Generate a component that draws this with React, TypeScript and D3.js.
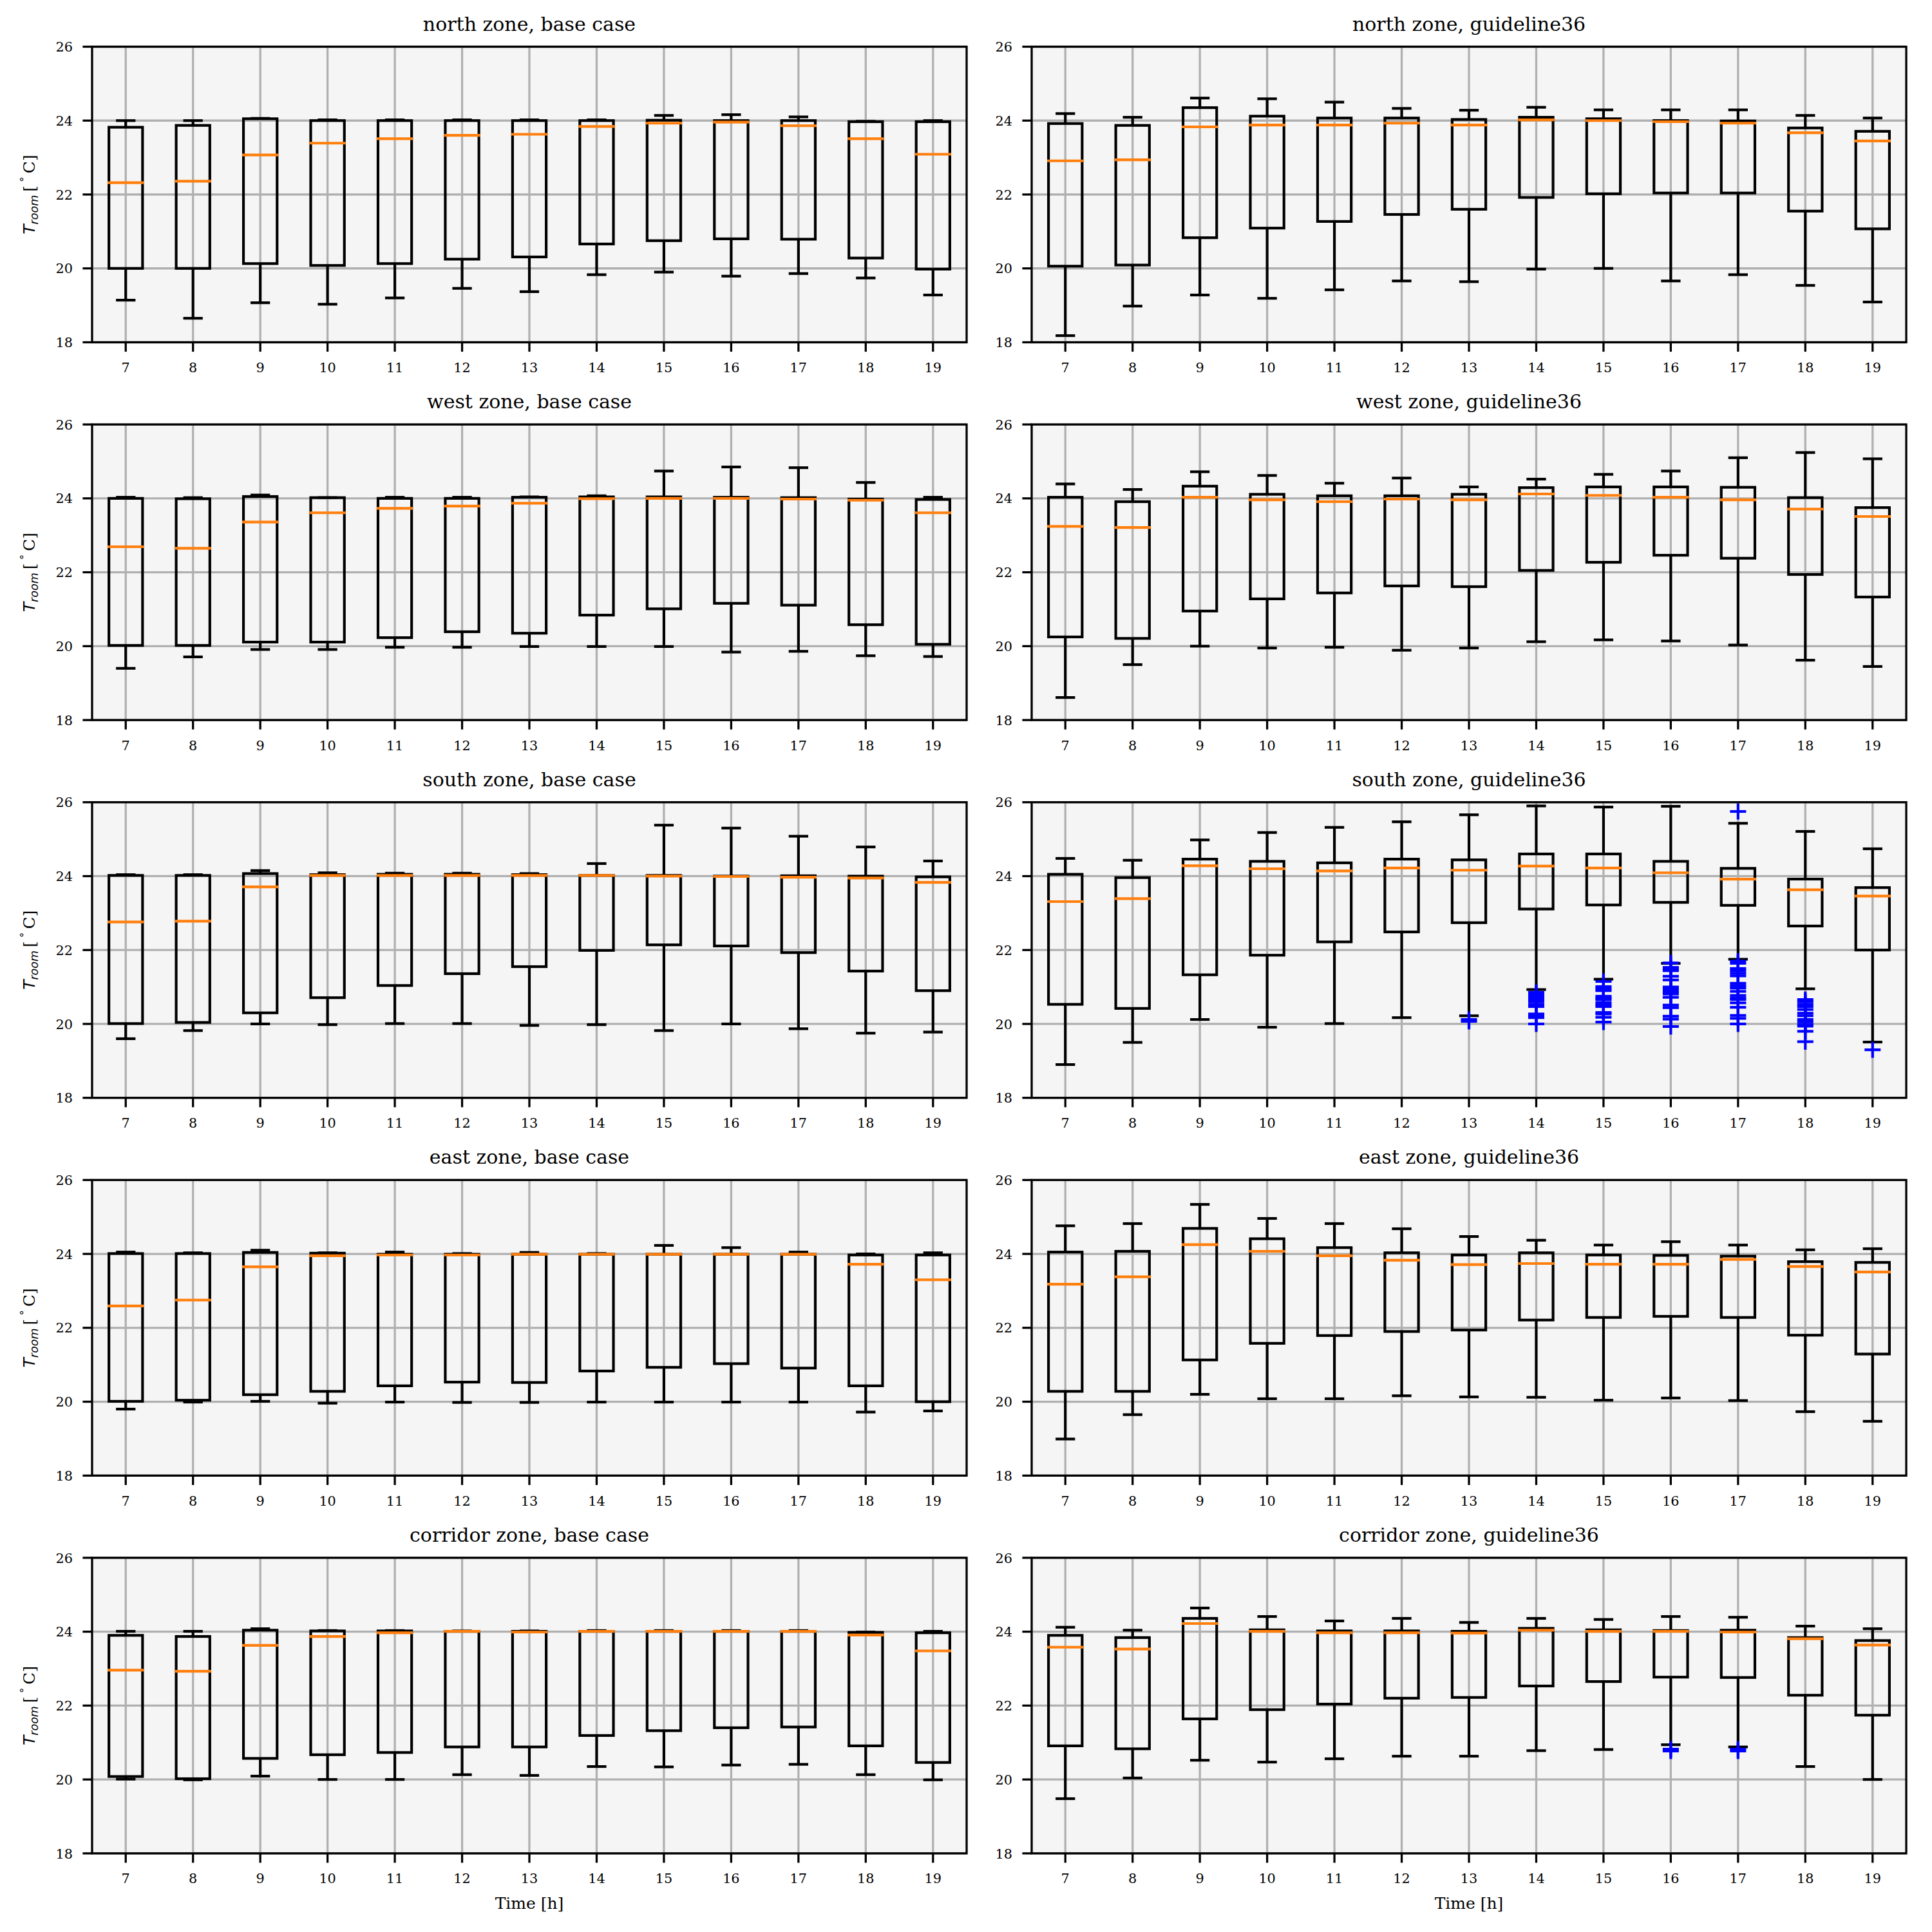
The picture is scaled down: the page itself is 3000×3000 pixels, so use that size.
import React from 'react';
import * as d3 from 'd3';

// ---------- categories / ticks ----------
const hours = [7, 8, 9, 10, 11, 12, 13, 14, 15, 16, 17, 18, 19];
const yTicks = [18, 20, 22, 24, 26];

// ---------- north zone, base case ----------
const northBaseLow = [19.14, 18.65, 19.07, 19.03, 19.2, 19.46, 19.37, 19.83, 19.9, 19.79, 19.86, 19.74, 19.28];
const northBaseQ1 = [20.0, 20.0, 20.13, 20.08, 20.13, 20.25, 20.31, 20.66, 20.75, 20.8, 20.79, 20.28, 19.98];
const northBaseMed = [22.32, 22.36, 23.07, 23.39, 23.51, 23.6, 23.63, 23.84, 23.93, 23.96, 23.86, 23.51, 23.09];
const northBaseQ3 = [23.82, 23.87, 24.05, 24.0, 24.0, 24.0, 24.0, 24.0, 24.01, 24.0, 24.0, 23.97, 23.97];
const northBaseHigh = [24.0, 24.0, 24.06, 24.02, 24.02, 24.02, 24.02, 24.02, 24.14, 24.16, 24.1, 23.98, 24.0];

// ---------- north zone, guideline36 ----------
const northG36Low = [18.18, 18.98, 19.28, 19.19, 19.42, 19.66, 19.64, 19.98, 20.0, 19.66, 19.83, 19.54, 19.09];
const northG36Q1 = [20.06, 20.09, 20.83, 21.09, 21.27, 21.46, 21.6, 21.92, 22.02, 22.04, 22.04, 21.55, 21.07];
const northG36Med = [22.91, 22.94, 23.83, 23.88, 23.88, 23.93, 23.88, 24.02, 24.0, 23.97, 23.93, 23.67, 23.45];
const northG36Q3 = [23.92, 23.87, 24.35, 24.12, 24.07, 24.07, 24.03, 24.09, 24.05, 24.0, 23.99, 23.8, 23.71];
const northG36High = [24.19, 24.09, 24.61, 24.59, 24.5, 24.33, 24.28, 24.36, 24.29, 24.29, 24.29, 24.14, 24.07];

// ---------- west zone, base case ----------
const westBaseLow = [19.4, 19.71, 19.91, 19.91, 19.97, 19.97, 19.99, 19.99, 19.99, 19.84, 19.86, 19.74, 19.72];
const westBaseQ1 = [20.02, 20.02, 20.11, 20.11, 20.23, 20.39, 20.35, 20.84, 21.01, 21.16, 21.11, 20.58, 20.05];
const westBaseMed = [22.69, 22.65, 23.36, 23.61, 23.73, 23.79, 23.87, 23.99, 24.0, 24.0, 23.98, 23.95, 23.61];
const westBaseQ3 = [24.0, 23.99, 24.05, 24.02, 24.0, 24.0, 24.03, 24.04, 24.04, 24.03, 24.02, 23.98, 23.97];
const westBaseHigh = [24.03, 24.02, 24.09, 24.02, 24.03, 24.03, 24.04, 24.07, 24.74, 24.85, 24.83, 24.43, 24.03];

// ---------- west zone, guideline36 ----------
const westG36Low = [18.61, 19.5, 20.0, 19.95, 19.97, 19.89, 19.95, 20.12, 20.17, 20.14, 20.03, 19.62, 19.45];
const westG36Q1 = [20.25, 20.21, 20.95, 21.28, 21.44, 21.63, 21.61, 22.05, 22.27, 22.46, 22.38, 21.94, 21.33];
const westG36Med = [23.24, 23.21, 24.03, 23.96, 23.91, 23.98, 23.96, 24.12, 24.08, 24.03, 23.96, 23.71, 23.51];
const westG36Q3 = [24.03, 23.91, 24.33, 24.11, 24.07, 24.07, 24.11, 24.29, 24.31, 24.31, 24.3, 24.02, 23.75];
const westG36High = [24.39, 24.24, 24.72, 24.62, 24.41, 24.55, 24.31, 24.52, 24.65, 24.74, 25.1, 25.24, 25.07];

// ---------- south zone, base case ----------
const southBaseLow = [19.6, 19.82, 20.0, 19.98, 20.01, 20.01, 19.96, 19.98, 19.82, 20.0, 19.87, 19.75, 19.78];
const southBaseQ1 = [20.01, 20.04, 20.3, 20.71, 21.04, 21.36, 21.55, 21.99, 22.14, 22.11, 21.93, 21.43, 20.9];
const southBaseMed = [22.76, 22.78, 23.71, 24.02, 24.02, 24.02, 24.02, 24.02, 24.0, 23.99, 23.97, 23.95, 23.83];
const southBaseQ3 = [24.02, 24.02, 24.07, 24.04, 24.05, 24.05, 24.04, 24.02, 24.02, 24.0, 24.01, 24.0, 23.98];
const southBaseHigh = [24.04, 24.04, 24.15, 24.09, 24.08, 24.08, 24.07, 24.34, 25.38, 25.3, 25.08, 24.79, 24.41];

// ---------- south zone, guideline36 ----------
const southG36Low = [18.9, 19.5, 20.12, 19.91, 20.01, 20.17, 20.22, 20.93, 21.21, 21.64, 21.75, 20.95, 19.51];
const southG36Q1 = [20.53, 20.42, 21.33, 21.86, 22.22, 22.49, 22.74, 23.11, 23.22, 23.29, 23.21, 22.65, 22.0];
const southG36Med = [23.31, 23.39, 24.28, 24.2, 24.14, 24.22, 24.16, 24.27, 24.22, 24.09, 23.92, 23.63, 23.46];
const southG36Q3 = [24.05, 23.96, 24.46, 24.4, 24.36, 24.46, 24.44, 24.6, 24.6, 24.4, 24.21, 23.92, 23.69];
const southG36High = [24.48, 24.43, 24.98, 25.18, 25.32, 25.47, 25.66, 25.9, 25.87, 25.89, 25.43, 25.21, 24.74];
const southG36Fliers = [
  [], [], [], [], [], [],
  [20.12, 20.07],
  [20.855, 20.79, 20.73, 20.66, 20.6, 20.53, 20.47, 20.27, 20.21, 20.17, 20.0],
  [21.15, 21.01, 20.95, 20.9, 20.75, 20.7, 20.66, 20.58, 20.52, 20.47, 20.31, 20.27, 20.18, 20.05],
  [21.65, 21.53, 21.48, 21.44, 21.29, 21.19, 21.0, 20.94, 20.87, 20.81, 20.72, 20.51, 20.44, 20.21, 20.13, 19.93],
  [25.75, 21.7, 21.64, 21.5, 21.44, 21.37, 21.3, 21.1, 21.03, 20.97, 20.88, 20.77, 20.7, 20.66, 20.57, 20.45, 20.23, 20.15, 20.0],
  [20.66, 20.6, 20.53, 20.47, 20.39, 20.29, 20.22, 20.12, 20.06, 19.99, 19.94, 19.8, 19.52],
  [19.3],
];

// ---------- east zone, base case ----------
const eastBaseLow = [19.8, 19.99, 20.01, 19.96, 19.99, 19.98, 19.98, 19.99, 19.99, 19.99, 19.99, 19.72, 19.75];
const eastBaseQ1 = [20.01, 20.04, 20.19, 20.28, 20.43, 20.53, 20.52, 20.83, 20.93, 21.03, 20.91, 20.43, 20.0];
const eastBaseMed = [22.59, 22.75, 23.65, 23.95, 23.97, 23.97, 23.99, 23.99, 23.99, 23.99, 23.99, 23.72, 23.3];
const eastBaseQ3 = [24.01, 24.01, 24.04, 24.02, 23.99, 23.99, 23.99, 23.99, 23.99, 23.99, 23.99, 23.97, 23.97];
const eastBaseHigh = [24.05, 24.03, 24.1, 24.03, 24.05, 24.01, 24.04, 24.01, 24.23, 24.17, 24.05, 24.0, 24.03];

// ---------- east zone, guideline36 ----------
const eastG36Low = [18.99, 19.65, 20.2, 20.08, 20.08, 20.16, 20.13, 20.12, 20.04, 20.1, 20.03, 19.73, 19.47];
const eastG36Q1 = [20.28, 20.28, 21.13, 21.58, 21.79, 21.9, 21.94, 22.21, 22.28, 22.31, 22.28, 21.8, 21.29];
const eastG36Med = [23.18, 23.38, 24.25, 24.07, 23.95, 23.83, 23.71, 23.74, 23.72, 23.72, 23.85, 23.66, 23.51];
const eastG36Q3 = [24.05, 24.07, 24.69, 24.41, 24.17, 24.03, 23.97, 24.03, 23.97, 23.96, 23.94, 23.79, 23.77];
const eastG36High = [24.76, 24.82, 25.34, 24.96, 24.82, 24.68, 24.47, 24.37, 24.24, 24.33, 24.24, 24.11, 24.14];

// ---------- corridor zone, base case ----------
const corridorBaseLow = [20.01, 19.99, 20.09, 20.0, 20.0, 20.13, 20.11, 20.35, 20.34, 20.39, 20.41, 20.13, 19.99];
const corridorBaseQ1 = [20.08, 20.02, 20.57, 20.67, 20.73, 20.88, 20.88, 21.19, 21.32, 21.4, 21.42, 20.91, 20.46];
const corridorBaseMed = [22.96, 22.93, 23.63, 23.87, 23.97, 24.01, 23.99, 24.01, 24.01, 24.01, 24.01, 23.91, 23.48];
const corridorBaseQ3 = [23.9, 23.87, 24.04, 24.02, 24.02, 24.01, 24.01, 24.01, 24.01, 24.01, 24.01, 23.98, 23.97];
const corridorBaseHigh = [24.01, 24.01, 24.08, 24.03, 24.03, 24.02, 24.02, 24.03, 24.03, 24.03, 24.03, 23.99, 24.01];

// ---------- corridor zone, guideline36 ----------
const corridorG36Low = [19.48, 20.04, 20.52, 20.47, 20.56, 20.63, 20.63, 20.78, 20.81, 20.94, 20.88, 20.35, 20.0];
const corridorG36Q1 = [20.91, 20.83, 21.64, 21.89, 22.04, 22.2, 22.22, 22.53, 22.65, 22.77, 22.76, 22.28, 21.74];
const corridorG36Med = [23.58, 23.53, 24.22, 24.01, 23.97, 23.97, 23.96, 24.04, 24.01, 24.01, 23.99, 23.81, 23.64];
const corridorG36Q3 = [23.9, 23.84, 24.36, 24.05, 24.02, 24.02, 24.01, 24.09, 24.05, 24.03, 24.04, 23.84, 23.76];
const corridorG36High = [24.12, 24.04, 24.64, 24.41, 24.29, 24.36, 24.25, 24.36, 24.33, 24.41, 24.39, 24.15, 24.08];
const corridorG36Fliers = [[], [], [], [], [], [], [], [], [], [20.82, 20.77], [20.82, 20.77], [], []];

const noFliers = hours.map(() => [] as number[]);

const panels = [
  { title: 'north zone, base case', low: northBaseLow, q1: northBaseQ1, med: northBaseMed, q3: northBaseQ3, high: northBaseHigh, fliers: noFliers },
  { title: 'north zone, guideline36', low: northG36Low, q1: northG36Q1, med: northG36Med, q3: northG36Q3, high: northG36High, fliers: noFliers },
  { title: 'west zone, base case', low: westBaseLow, q1: westBaseQ1, med: westBaseMed, q3: westBaseQ3, high: westBaseHigh, fliers: noFliers },
  { title: 'west zone, guideline36', low: westG36Low, q1: westG36Q1, med: westG36Med, q3: westG36Q3, high: westG36High, fliers: noFliers },
  { title: 'south zone, base case', low: southBaseLow, q1: southBaseQ1, med: southBaseMed, q3: southBaseQ3, high: southBaseHigh, fliers: noFliers },
  { title: 'south zone, guideline36', low: southG36Low, q1: southG36Q1, med: southG36Med, q3: southG36Q3, high: southG36High, fliers: southG36Fliers },
  { title: 'east zone, base case', low: eastBaseLow, q1: eastBaseQ1, med: eastBaseMed, q3: eastBaseQ3, high: eastBaseHigh, fliers: noFliers },
  { title: 'east zone, guideline36', low: eastG36Low, q1: eastG36Q1, med: eastG36Med, q3: eastG36Q3, high: eastG36High, fliers: noFliers },
  { title: 'corridor zone, base case', low: corridorBaseLow, q1: corridorBaseQ1, med: corridorBaseMed, q3: corridorBaseQ3, high: corridorBaseHigh, fliers: noFliers },
  { title: 'corridor zone, guideline36', low: corridorG36Low, q1: corridorG36Q1, med: corridorG36Med, q3: corridorG36Q3, high: corridorG36High, fliers: corridorG36Fliers },
];

// ---------- layout ----------
const W = 1358;
const H = 459;
const colX = [143, 1602];
const rowY = [72.5, 659.1, 1245.7, 1832.3, 2418.9];
const LW = 4.17;
const SPINE = 3.3;
const TICK = 14.6;
const SERIF = 'DejaVu Serif';

type PanelData = (typeof panels)[number];

function Panel({ p, x0, y0, yLabel, xLabel }: { p: PanelData; x0: number; y0: number; yLabel: boolean; xLabel: boolean }) {
  const x = d3.scaleBand<string>().domain(hours.map(String)).range([x0, x0 + W]).padding(0);
  const y = d3.scaleLinear().domain([18, 26]).range([y0 + H, y0]);
  const bw = x.bandwidth();
  const boxW = bw * 0.5;
  const capW = bw * 0.25;
  const cx = (h: number) => (x(String(h)) as number) + bw / 2;
  const cy = y0 + H / 2;

  return (
    <g>
      <rect x={x0} y={y0} width={W} height={H} fill="#f5f5f5" />
      {/* grid */}
      {hours.map((h) => (
        <line key={'gx' + h} x1={cx(h)} x2={cx(h)} y1={y0} y2={y0 + H} stroke="#b0b0b0" strokeWidth={SPINE} />
      ))}
      {yTicks.map((t) => (
        <line key={'gy' + t} x1={x0} x2={x0 + W} y1={y(t)} y2={y(t)} stroke="#b0b0b0" strokeWidth={SPINE} />
      ))}
      {/* boxes */}
      {hours.map((h, i) => {
        const c = cx(h);
        return (
          <g key={'b' + h}>
            <line x1={c} x2={c} y1={y(p.q1[i])} y2={y(p.low[i])} stroke="#000" strokeWidth={LW} />
            <line x1={c} x2={c} y1={y(p.q3[i])} y2={y(p.high[i])} stroke="#000" strokeWidth={LW} />
            <line x1={c - capW / 2} x2={c + capW / 2} y1={y(p.low[i])} y2={y(p.low[i])} stroke="#000" strokeWidth={LW} strokeLinecap="square" />
            <line x1={c - capW / 2} x2={c + capW / 2} y1={y(p.high[i])} y2={y(p.high[i])} stroke="#000" strokeWidth={LW} strokeLinecap="square" />
            <rect x={c - boxW / 2} y={y(p.q3[i])} width={boxW} height={Math.max(0, y(p.q1[i]) - y(p.q3[i]))} fill="none" stroke="#000" strokeWidth={LW} />
            <line x1={c - boxW / 2} x2={c + boxW / 2} y1={y(p.med[i])} y2={y(p.med[i])} stroke="#ff7f0e" strokeWidth={LW} strokeLinecap="square" />
            {p.fliers[i].map((v, k) => (
              <g key={'f' + k} stroke="#0000ff" strokeWidth={LW}>
                <line x1={c - 12.5} x2={c + 12.5} y1={y(v)} y2={y(v)} />
                <line x1={c} x2={c} y1={y(v) - 12.5} y2={y(v) + 12.5} />
              </g>
            ))}
          </g>
        );
      })}
      {/* spines */}
      <rect x={x0} y={y0} width={W} height={H} fill="none" stroke="#000" strokeWidth={SPINE} />
      {/* ticks */}
      {hours.map((h) => (
        <g key={'tx' + h}>
          <line x1={cx(h)} x2={cx(h)} y1={y0 + H} y2={y0 + H + TICK} stroke="#000" strokeWidth={SPINE} />
          <text x={cx(h)} y={y0 + H + 46.5} textAnchor="middle" fontFamily={SERIF} fontSize={20.8} fill="#000">
            {h}
          </text>
        </g>
      ))}
      {yTicks.map((t) => (
        <g key={'ty' + t}>
          <line x1={x0 - TICK} x2={x0} y1={y(t)} y2={y(t)} stroke="#000" strokeWidth={SPINE} />
          <text x={x0 - 30} y={y(t) + 7.6} textAnchor="end" fontFamily={SERIF} fontSize={20.8} fill="#000">
            {t}
          </text>
        </g>
      ))}
      {/* title */}
      <text x={x0 + W / 2} y={y0 - 25} textAnchor="middle" fontFamily={SERIF} fontSize={30} fill="#000">
        {p.title}
      </text>
      {yLabel && (
        <text transform={`translate(${x0 - 89}, ${cy}) rotate(-90)`} textAnchor="middle" fontFamily={SERIF} fontSize={25} fill="#000">
          <tspan fontFamily="DejaVu Sans" fontStyle="italic">T</tspan>
          <tspan fontFamily="DejaVu Sans" fontStyle="italic" fontSize={17.5} dy={5}>room</tspan>
          <tspan dy={-5}>{'\u2009[\u2009'}</tspan>
          <tspan fontFamily="DejaVu Sans" fontSize={17.5} dy={-10}>{'\u00b0'}</tspan>
          <tspan dy={10}>{'\u2009C]'}</tspan>
        </text>
      )}
      {xLabel && (
        <text x={x0 + W / 2} y={y0 + H + 86} textAnchor="middle" fontFamily={SERIF} fontSize={25} fill="#000">
          Time [h]
        </text>
      )}
    </g>
  );
}

export default function App() {
  return (
    <svg width={3000} height={3000} style={{ position: 'absolute', left: 0, top: 0, display: 'block' }}>
      <rect x={0} y={0} width={3000} height={3000} fill="#ffffff" />
      {panels.map((p, i) => {
        const row = Math.floor(i / 2);
        const col = i % 2;
        return (
          <Panel
            key={p.title}
            p={p}
            x0={colX[col]}
            y0={rowY[row]}
            yLabel={col === 0}
            xLabel={row === rowY.length - 1}
          />
        );
      })}
    </svg>
  );
}
